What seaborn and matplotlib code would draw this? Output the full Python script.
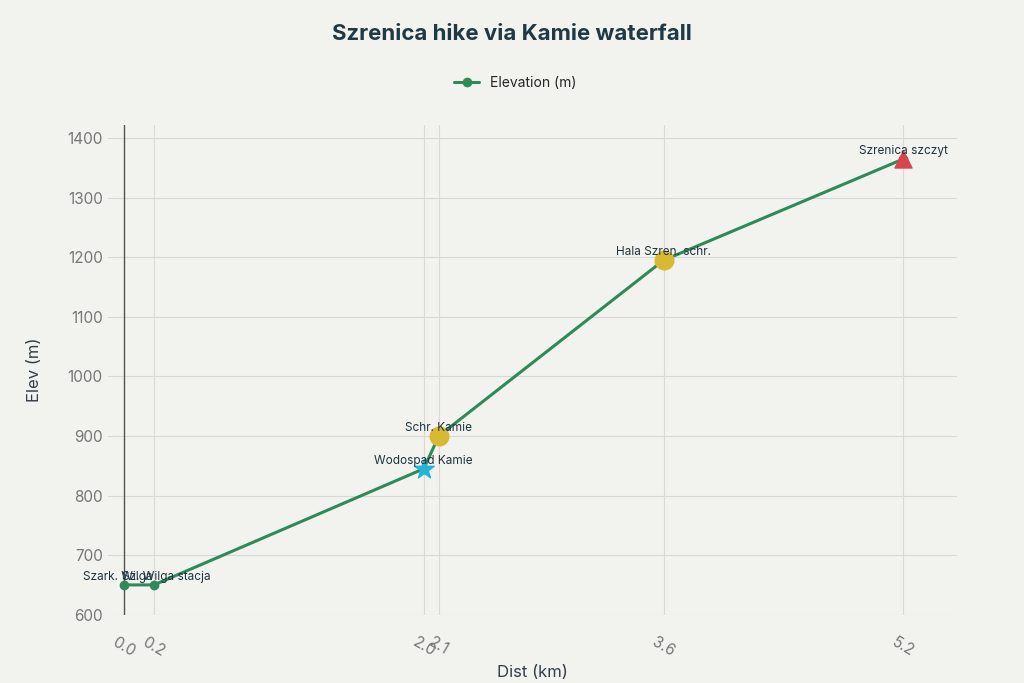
import matplotlib
matplotlib.use("Agg")
import matplotlib.pyplot as plt
import seaborn as sns
import pandas as pd

dist = [0.0, 0.2, 2.0, 2.1, 3.6, 5.2]
elev = [650, 650, 845, 900, 1195, 1365]
names = ["Szark. Wilga", "Sz. Wilga stacja", "Wodospad Kamie", "Schr. Kamie", "Hala Szren. schr.", "Szrenica szczyt"]
tick_labels = ["0.0", "0.2", "2.0", "2.1", "3.6", "5.2"]

df = pd.DataFrame({"dist": dist, "elev": elev, "name": names})

bg = "#f2f2ee"
sns.set_theme(style="white")
plt.rcParams["font.family"] = ["Inter", "DejaVu Sans"]

fig = plt.figure(figsize=(10.24, 6.83), dpi=100, facecolor=bg)
ax = fig.add_axes([0.105, 0.10, 0.83, 0.717])
ax.set_facecolor(bg)

green = "#2e8b57"
sns.lineplot(data=df, x="dist", y="elev", ax=ax, color=green, linewidth=2.2,
             marker="o", markersize=7, markeredgewidth=0, label="Elevation (m)")

# special markers
ax.scatter([dist[2]], [elev[2]], marker="*", s=220, color="#22b5d8", zorder=5)
ax.scatter([dist[3], dist[4]], [elev[3], elev[4]], marker="o", s=180, color="#d8b933", zorder=5)
ax.scatter([dist[5]], [elev[5]], marker="^", s=150, color="#d9454d", zorder=5)

# first two labels sit on top of each other in the original; nudge them apart slightly
offsets = [(-0.04, "center"), (0.08, "center"), (0, "center"), (0, "center"), (0, "center"), (0, "center")]
for (x, y, n), (dx, ha) in zip(zip(dist, elev, names), offsets):
    ax.text(x + dx, y + 3, n, ha=ha, va="bottom", fontsize=8.5, color="#1f3340", zorder=6)

ax.set_xlim(-0.11, 5.56)
ax.set_ylim(600, 1422)
ax.set_xticks(dist)
ax.set_xticklabels(tick_labels, rotation=-30, fontsize=11, color="#777777")
ax.set_yticks(range(600, 1401, 100))
ax.tick_params(axis="y", labelsize=11, labelcolor="#777777", length=0)
ax.tick_params(axis="x", length=0, pad=14)
ax.grid(True, color="#d8d8d4", linewidth=0.8)
ax.axvline(0, color="#555555", linewidth=1, zorder=1)
for s in ax.spines.values():
    s.set_visible(False)

ax.set_xlabel("Dist (km)", fontsize=12, color="#333f4a", labelpad=4)
ax.set_ylabel("Elev (m)", fontsize=12, color="#333f4a", labelpad=18)

leg = ax.legend(loc="upper center", bbox_to_anchor=(0.48, 1.125), frameon=False,
                fontsize=10, handlelength=1.8)
fig.suptitle("Szrenica hike via Kamie waterfall", y=0.965, fontsize=16,
             fontweight="bold", color="#1f3a44")

fig.savefig("out.png", facecolor=bg)
